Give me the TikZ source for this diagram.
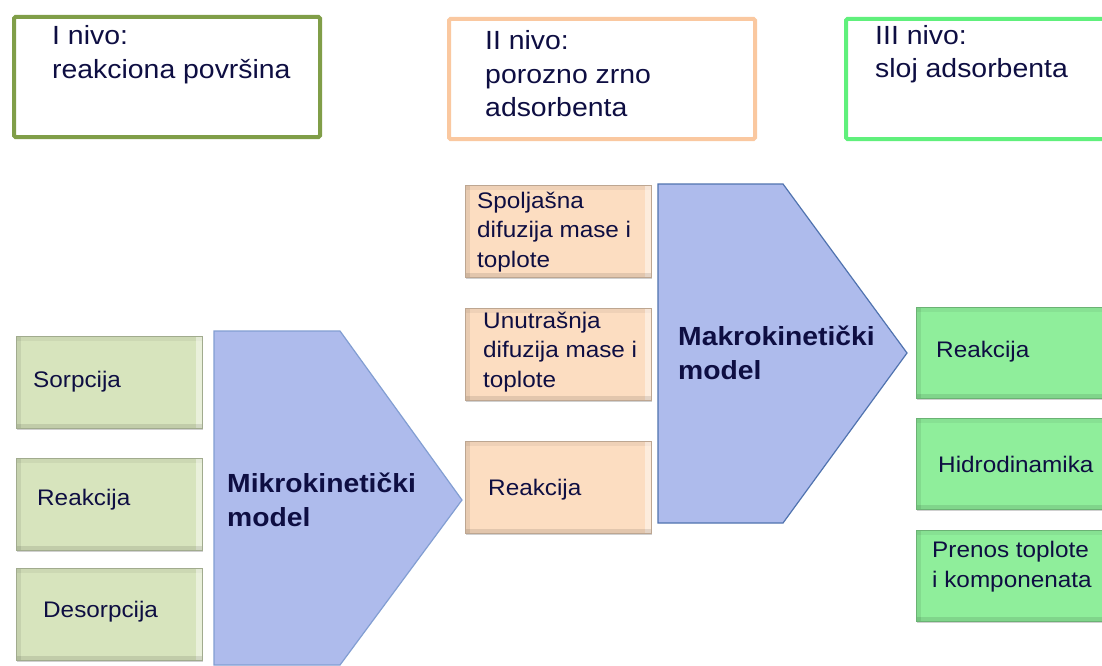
\documentclass[tikz,border=0pt]{standalone}
\usepackage{fontspec}
\setmainfont{Liberation Sans}[FakeStretch=1.08]
\usetikzlibrary{shadows}
\definecolor{txt}{RGB}{14,14,66}
\definecolor{olivebrd}{RGB}{128,158,72}
\definecolor{peachbrd}{RGB}{250,200,160}
\definecolor{greenbrd}{RGB}{96,240,124}
\definecolor{lgfill}{RGB}{215,228,189}
\definecolor{pfill}{RGB}{252,221,193}
\definecolor{gfill}{RGB}{143,238,155}
\definecolor{bfill}{RGB}{174,187,236}
\definecolor{bbrd}{RGB}{130,158,210}
\definecolor{bbrddark}{RGB}{80,115,175}
\tikzset{
  topbox/.style={draw, line width=4pt, fill=white, rounded corners=1.5pt, anchor=north west, inner sep=0pt, minimum width=306pt, minimum height=120pt},
  bevel/.style={anchor=north west, inner sep=0pt, draw=#1!75!black, line width=0.6pt, fill=#1,
    drop shadow={shadow xshift=1pt, shadow yshift=-2pt, opacity=.3, fill=black!60},
    path picture={
      \fill[black,opacity=.08] (path picture bounding box.north west) rectangle ([xshift=5pt]path picture bounding box.south west);
      \fill[black,opacity=.05] (path picture bounding box.north west) rectangle ([yshift=-5pt]path picture bounding box.north east);
      \fill[white,opacity=.45] ([xshift=-6pt]path picture bounding box.north east) rectangle (path picture bounding box.south east);
      \fill[black,opacity=.10] ([yshift=4pt]path picture bounding box.south west) rectangle (path picture bounding box.south east);
    }},
  lgbox/.style={bevel=lgfill, minimum width=186pt, minimum height=92pt},
  pbox/.style={bevel=pfill, minimum width=186pt, minimum height=92pt},
  gbox/.style={bevel=gfill, minimum width=200pt, minimum height=91pt},
  toptxt/.style={anchor=base west, inner sep=0pt, text=txt, font=\fontsize{26.3}{34}\selectfont},
  lbl/.style={anchor=base west, inner sep=0pt, text=txt, font=\fontsize{22.5}{29.7}\selectfont},
  bold/.style={anchor=base west, inner sep=0pt, text=txt, font=\fontsize{26.2}{34}\selectfont\bfseries},
  penta/.style={fill=bfill, draw=#1, line width=1.2pt, line join=miter}
}
\begin{document}
\begin{tikzpicture}[x=1pt,y=-1pt]
\useasboundingbox (0,0) rectangle (1102,666);
\clip (0,0) rectangle (1102,666);
\fill[white] (0,0) rectangle (1102,666);

% top level boxes
\node[topbox, draw=olivebrd] (t1) at (12,15) {};
\node[topbox, draw=peachbrd] (t2) at (447,17) {};
\node[topbox, draw=greenbrd] (t3) at (844,17) {};
\node[toptxt] (t1txt) at (52,45) {\vtop{\hbox{I nivo:}\hbox{reakciona površina}}};
\node[toptxt, font=\fontsize{26.3}{33.5}\selectfont] (t2txt) at (485,50) {\vtop{\hbox{II nivo:}\hbox{porozno zrno}\hbox{adsorbenta}}};
\node[toptxt, font=\fontsize{26.3}{33}\selectfont] (t3txt) at (875,45) {\vtop{\hbox{III nivo:}\hbox{sloj adsorbenta}}};

% left column
\node[lgbox] (l1) at (16,336) {};
\node[lgbox] (l2) at (16,458) {};
\node[lgbox] (l3) at (16,568) {};
\node[lbl] (l1txt) at (33,387) {Sorpcija};
\node[lbl] (l2txt) at (37,505) {Reakcija};
\node[lbl] (l3txt) at (43,617) {Desorpcija};

% micro-kinetic pentagon
\coordinate (m1) at (214,331);
\coordinate (m2) at (340,331);
\coordinate (m3) at (462,500);
\coordinate (m4) at (340,665);
\coordinate (m5) at (214,665);
\draw[penta=bbrd] (m1) -- (m2) -- (m3) -- (m4) -- (m5) -- cycle;
\node[bold] (mtxt) at (227,492) {\vtop{\hbox{Mikrokinetički}\hbox{model}}};

% middle column
\node[pbox] (p1) at (465,185) {};
\node[pbox] (p2) at (465,308) {};
\node[pbox] (p3) at (465,441) {};
\node[lbl] (p1txt) at (477,208) {\vtop{\hbox{Spoljašna}\hbox{difuzija mase i}\hbox{toplote}}};
\node[lbl] (p2txt) at (483,328) {\vtop{\hbox{Unutrašnja}\hbox{difuzija mase i}\hbox{toplote}}};
\node[lbl] (p3txt) at (488,495) {Reakcija};

% macro-kinetic pentagon
\coordinate (k1) at (658,184);
\coordinate (k2) at (783,184);
\coordinate (k3) at (907,353);
\coordinate (k4) at (783,523);
\coordinate (k5) at (658,523);
\draw[penta=bbrddark] (k1) -- (k2) -- (k3) -- (k4) -- (k5) -- cycle;
\node[bold] (ktxt) at (678,345) {\vtop{\hbox{Makrokinetički}\hbox{model}}};

% right column
\node[gbox] (r1) at (916,307) {};
\node[gbox] (r2) at (916,418) {};
\node[gbox] (r3) at (916,530) {};
\node[lbl] (r1txt) at (936,357) {Reakcija};
\node[lbl] (r2txt) at (938,472) {Hidrodinamika};
\node[lbl, font=\fontsize{22.5}{30}\selectfont] (r3txt) at (932,557) {\vtop{\hbox{Prenos toplote}\hbox{i komponenata}}};
\end{tikzpicture}
\end{document}
